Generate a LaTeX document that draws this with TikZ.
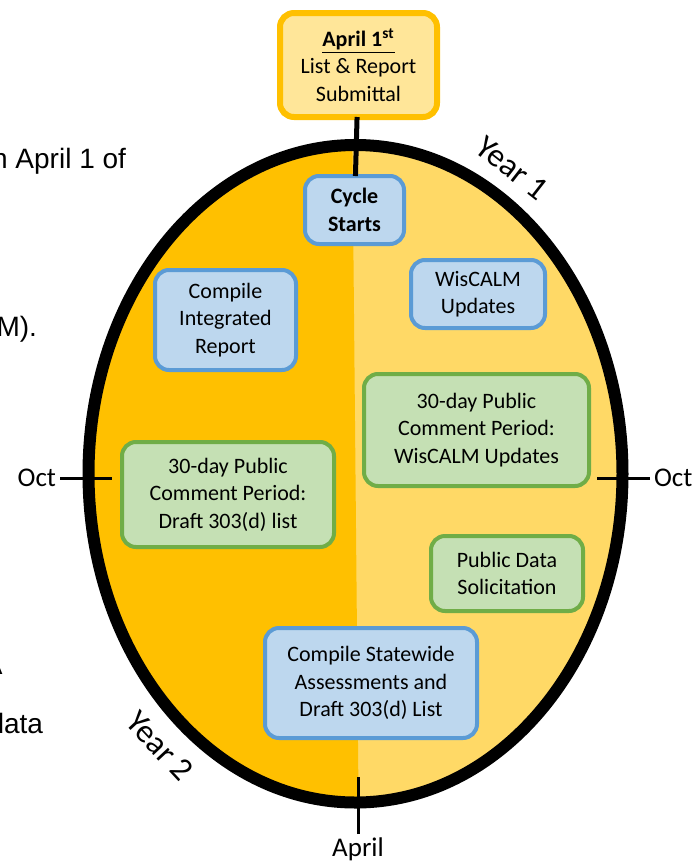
\documentclass[tikz,border=0pt]{standalone}
\usepackage{fontspec}
\setmainfont{Carlito}
\newfontfamily\arialfont{Liberation Sans}
\definecolor{darkgold}{HTML}{FFC000}
\definecolor{lightgold}{HTML}{FFD966}
\definecolor{palegold}{HTML}{FFE699}
\definecolor{boxblue}{HTML}{BDD7EE}
\definecolor{edgeblue}{HTML}{5B9BD5}
\definecolor{boxgreen}{HTML}{C5E0B4}
\definecolor{edgegreen}{HTML}{70AD47}

\begin{document}
\begin{tikzpicture}[x=0.5pt,y=-0.5pt,inner sep=0pt,outer sep=0pt,
bluebox/.style={draw=edgeblue,fill=boxblue,line width=2pt,rounded corners=7pt,align=center,font=\fontsize{11}{13.8}\selectfont},
greenbox/.style={bluebox,draw=edgegreen,fill=boxgreen},
datebox/.style={bluebox,draw=darkgold,fill=palegold,line width=3pt},
ticklabel/.style={inner sep=2pt,font=\fontsize{13.5}{16}\selectfont},
yearlabel/.style={font=\fontsize{16.5}{18}\selectfont},
frag/.style={anchor=base east,font=\arialfont\fontsize{14}{16}\selectfont},
tick/.style={line width=1.5pt}]

\useasboundingbox (0,0) rectangle (694,863);

\fill[lightgold] (355.5,473.75) ellipse [x radius=267, y radius=328.75];
\begin{scope}
\clip (355.5,473.75) ellipse [x radius=267, y radius=328.75];
\fill[darkgold] (0,100) -- (352,100) -- (359,850) -- (0,850) -- cycle;
\end{scope}
\draw[line width=6pt] (355.5,473.75) ellipse [x radius=267, y radius=328.75];

\begin{scope}
\clip (0,0) rectangle (694,863);
\draw (126,168) node[frag] (fraga) {n April 1 of};
\draw (37,336) node[frag] (fragb) {M).};
\draw (2.5,674) node[frag] (fragc) {A};
\draw (43,733) node[frag] (fragd) {data};
\end{scope}

\draw (60,478) node[ticklabel,anchor=east] (octw) {Oct};
\draw (650,478) node[ticklabel,anchor=west] (octe) {Oct};
\draw (358,834) node[ticklabel,anchor=north] (apr) {April};
\coordinate (octwend) at (112,478);
\coordinate (octeend) at (597,478);
\coordinate (aprend) at (358,777);
\draw[tick] (octw) -- (octwend);
\draw[tick] (octe) -- (octeend);
\draw[tick] (apr) -- (aprend);

\draw (512,168) node[yearlabel,rotate=-38] (yr1) {Year 1};
\draw (160,746) node[yearlabel,rotate=-47] (yr2) {Year 2};

\draw (358.5,65) node[datebox,minimum width=78.5pt,minimum height=52pt] (submit) {\textbf{\underline{April 1\textsuperscript{st}}}\\List \& Report\\Submittal};
\draw (354.5,210) node[bluebox,minimum width=49.5pt,minimum height=34pt] (start) {\textbf{Cycle}\\\textbf{Starts}};
\draw[line width=2.5pt] (submit) -- (start);

\draw (225.5,320) node[bluebox,minimum width=70.5pt,minimum height=50pt] (integ) {Compile\\Integrated\\Report};
\draw (478,294) node[bluebox,minimum width=67pt,minimum height=34pt] (wiscalm) {WisCALM\\Updates};
\draw (476.5,430) node[greenbox,minimum width=112.5pt,minimum height=56pt] (commentw) {30-day Public\\Comment Period:\\WisCALM Updates};
\draw (228,494.5) node[greenbox,minimum width=106pt,minimum height=52.5pt] (commentd) {30-day Public\\Comment Period:\\Draft 303(d) list};
\draw (507,573.5) node[greenbox,minimum width=76pt,minimum height=37.5pt] (solicit) {Public Data\\Solicitation};
\draw (371,683) node[bluebox,minimum width=106pt,minimum height=55pt] (assess) {Compile Statewide\\Assessments and\\Draft 303(d) List};

\end{tikzpicture}
\end{document}
